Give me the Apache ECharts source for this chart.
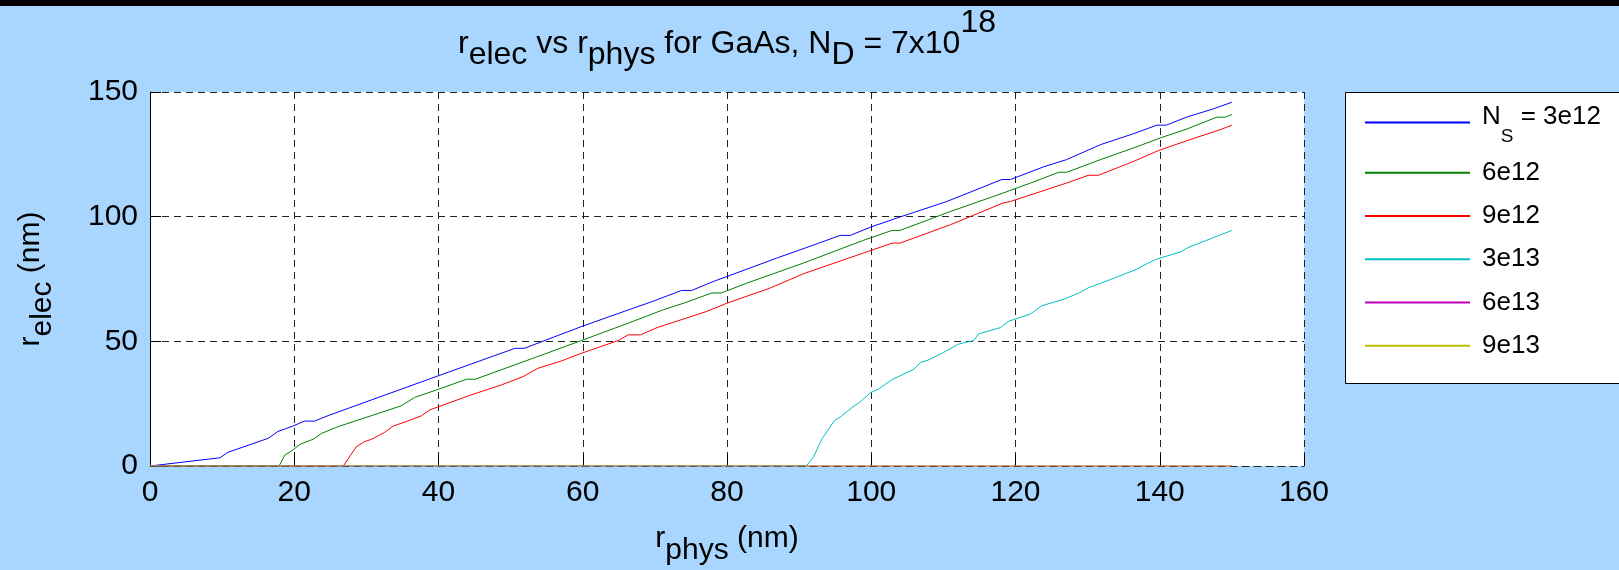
<!DOCTYPE html>
<html>
<head>
<meta charset="utf-8">
<script src="https://cdn.jsdelivr.net/npm/echarts@6/dist/echarts.min.js"></script>
<style>
    html, body {margin: 0; padding: 0; background: #a8d6fe;}
    #main {width: 1619px; height: 570px;}
</style>
</head>
<body>
<div id="main"></div>
<script>
// N_S values, one line per sheet density
var seriesNames = ['3e12', '6e12', '9e12', '3e13', '6e13', '9e13'];
var seriesColors = ['#0000ff', '#008000', '#ff0000', '#00bfbf', '#bf00bf', '#bfbf00'];

// r_phys (nm) / r_elec (nm)
var xs3e12 = [0, 9.7, 10.8, 16.4, 17.7, 19.8, 21.4, 22.8, 24.7, 30.7, 39.9, 50.6, 51.9, 59.8, 66.6, 69.3, 73.7, 75.1, 78.1, 80.0, 86.9, 91.5, 95.7, 97.1, 100, 103.6, 105.9, 110.5, 113.7, 118.1, 119.3, 123.9, 127.1, 131.8, 136.4, 139.6, 140.9, 143.8, 147.5, 150];
var ys3e12 = [0, 3.3, 5.5, 11.1, 13.8, 16.0, 18.0, 18.0, 20.2, 26.5, 36.1, 47.2, 47.2, 55.9, 62.9, 65.6, 70.4, 70.4, 74.0, 76.0, 83.4, 88.1, 92.5, 92.5, 95.9, 99.5, 101.7, 106.1, 109.8, 114.9, 114.9, 120.0, 122.9, 128.9, 133.3, 136.7, 136.7, 140.0, 143.3, 145.9];

var xs6e12 = [0, 17.9, 18.7, 19.8, 20.8, 22.6, 23.8, 26.1, 34.8, 36.7, 39.9, 43.9, 45.1, 52.9, 59.8, 66.6, 71.2, 74.0, 77.9, 79.2, 82.8, 90.6, 98.9, 102.9, 104.0, 111.0, 118.3, 122.1, 126.0, 127.1, 131.8, 136.4, 140.1, 143.8, 147.9, 149.1, 150];
var ys6e12 = [0, 0, 4.4, 6.4, 8.7, 10.7, 13.1, 15.8, 24.1, 27.5, 30.7, 34.8, 34.8, 43.0, 50.3, 57.6, 62.7, 65.3, 69.4, 69.4, 73.4, 81.4, 90.5, 94.5, 94.5, 102.1, 109.5, 113.5, 117.8, 117.8, 122.9, 127.6, 131.6, 135.2, 139.9, 139.9, 141.0];

var xs9e12 = [0, 26.8, 28.6, 29.7, 30.7, 32.5, 33.7, 35.5, 37.6, 38.8, 44.5, 48.7, 51.7, 53.8, 57.0, 59.8, 64.9, 66.3, 68.0, 70.3, 77.2, 80.0, 86.0, 90.6, 98.9, 102.9, 104.0, 111.0, 114.7, 118.3, 119.3, 127.1, 130.1, 131.5, 136.4, 139.8, 144.2, 148.4, 150];
var ys9e12 = [0, 0, 7.7, 9.7, 10.7, 13.4, 16.0, 17.8, 20.1, 22.5, 28.5, 32.5, 35.8, 39.2, 42.1, 45.2, 50.3, 52.6, 52.6, 55.5, 62.0, 65.3, 71.4, 77.1, 85.4, 89.4, 89.4, 96.8, 101.2, 105.5, 106.1, 113.5, 116.6, 116.6, 122.2, 126.5, 130.9, 134.9, 136.7];

var xs3e13 = [0, 91.0, 92.0, 93.2, 94.9, 95.9, 97.3, 98.5, 99.9, 101.0, 102.9, 103.8, 105.9, 106.8, 108.0, 110.0, 112.1, 114.2, 114.9, 117.9, 119.0, 122.1, 123.6, 126.8, 128.9, 130.1, 133.1, 136.8, 138.2, 139.5, 143.0, 143.9, 147.9, 150];
var ys3e13 = [0, 0, 3.7, 11.1, 18.2, 20.1, 23.4, 25.8, 29.4, 30.8, 34.7, 35.9, 38.8, 41.5, 42.6, 45.5, 48.9, 50.3, 53.0, 55.5, 58.0, 61.0, 64.2, 67.0, 69.5, 71.5, 74.7, 78.9, 81.1, 82.9, 86.0, 87.6, 92.1, 94.5];

var xs6e13 = [0, 150];
var ys6e13 = [0, 0];
var xs9e13 = [0, 150];
var ys9e13 = [0, 0];

var xTicks = [0, 20, 40, 60, 80, 100, 120, 140, 160];
var yTicks = [0, 50, 100, 150];

var FONT = 'Liberation Sans';

function pairs(xs, ys) {
    return xs.map(function (x, i) { return [x, ys[i]]; });
}

// one rich-text token whose box fills the whole line, so the glyph
// sits padTop px below the line top whatever the alignment rule is
function tok(size, lineH, padTop, solid) {
    var t = {
        fontFamily: FONT, fontWeight: 'normal', fontSize: size, color: '#000',
        height: size, lineHeight: lineH, verticalAlign: 'top',
        padding: [padTop, 0, lineH - size - padTop, 0]
    };
    if (solid) {
        t.backgroundColor = 'transparent';
    }
    return t;
}

// shared look of the two legend blocks (first row has the subscript)
function legendBlock(names, top, gap) {
    return {
        orient: 'vertical',
        left: 1345,
        top: top,
        padding: [0, 10, 0, 20],
        itemGap: gap,
        itemWidth: 105,
        itemHeight: 2,
        icon: 'rect',
        data: names,
        formatter: function (name) {
            if (name === seriesNames[0]) {
                return '{n|N}{s|S}{n| = ' + name + '}';
            }
            return '{t|' + name + '}';
        },
        textStyle: {
            fontFamily: FONT, fontSize: 26, color: '#000',
            padding: [0, 0, 0, 7],
            rich: {
                n: tok(26, 47, 5, true),
                s: tok(19, 47, 28, true),
                t: tok(26, 40, 7, true)
            }
        }
    };
}

var allX = [xs3e12, xs6e12, xs9e12, xs3e13, xs6e13, xs9e13];
var allY = [ys3e12, ys6e12, ys9e12, ys3e13, ys6e13, ys9e13];

var chart = echarts.init(document.getElementById('main'), null, {renderer: 'canvas'});

var option = {
    animation: false,
    backgroundColor: '#a8d6fe',
    graphic: [
        {
            type: 'rect', left: 0, top: 0, z: 100,
            shape: {width: 1619, height: 6},
            style: {fill: '#000'}
        },
        {
            // legend box, open on the right where it runs off the figure
            type: 'rect', z: 1,
            shape: {x: 1345, y: 92, width: 274, height: 292},
            style: {fill: '#fff'}
        },
        {
            type: 'polyline', z: 2,
            shape: {points: [[1619, 92.5], [1345.5, 92.5], [1345.5, 383.5], [1619, 383.5]]},
            style: {stroke: '#000', lineWidth: 1, fill: null}
        }
    ],
    title: {
        text: '{m|r}{s|elec}{m| vs r}{s|phys}{m| for GaAs, N}{s|D}{m| = 7x10}{p|18}',
        left: 727,
        top: 7,
        textAlign: 'center',
        padding: 0,
        textStyle: {
            fontFamily: FONT, fontWeight: 'normal', fontSize: 32, color: '#000',
            rich: {m: tok(32, 64, 21), s: tok(32, 64, 32), p: tok(32, 64, 0)}
        }
    },
    legend: [
        legendBlock(seriesNames.slice(0, 1), 99, 3),
        legendBlock(seriesNames.slice(1), 152.7, 3.25)
    ],
    grid: {
        left: 150,
        right: 315,
        top: 92,
        bottom: 104,
        show: true,
        backgroundColor: '#fff',
        borderWidth: 0,
        containLabel: false,
        outerBoundsMode: 'none'
    },
    xAxis: {
        type: 'value',
        min: xTicks[0],
        max: xTicks[xTicks.length - 1],
        interval: xTicks[1] - xTicks[0],
        name: '{m|r}{s|phys}{m| (nm)}',
        nameLocation: 'middle',
        nameGap: 58,
        nameMoveOverlap: false,
        nameTextStyle: {
            fontFamily: FONT, fontSize: 30, color: '#000',
            rich: {m: tok(30, 42, 0), s: tok(30, 42, 12)}
        },
        axisLine: {show: true, lineStyle: {color: '#222', width: 1, type: [7, 5]}},
        axisTick: {show: true, inside: true, length: 12, lineStyle: {color: '#000'}},
        axisLabel: {fontFamily: FONT, fontSize: 30, color: '#000', margin: 12},
        splitLine: {show: true, lineStyle: {color: '#222', width: 1, type: [7, 5]}}
    },
    yAxis: {
        type: 'value',
        min: yTicks[0],
        max: yTicks[yTicks.length - 1],
        interval: yTicks[1] - yTicks[0],
        name: '{m|r}{s|elec}{m| (nm)}',
        nameLocation: 'middle',
        nameRotate: 90,
        nameGap: 92,
        nameMoveOverlap: false,
        nameTextStyle: {
            fontFamily: FONT, fontSize: 30, color: '#000',
            rich: {m: tok(30, 42, 0), s: tok(30, 42, 12)}
        },
        axisLine: {show: true, lineStyle: {color: '#000', width: 1}},
        axisTick: {show: true, inside: true, length: 11, lineStyle: {color: '#000'}},
        axisLabel: {fontFamily: FONT, fontSize: 30, color: '#000', margin: 12},
        splitLine: {show: true, lineStyle: {color: '#222', width: 1, type: [7, 5]}}
    },
    series: seriesNames.map(function (name, i) {
        return {
            name: name,
            type: 'line',
            data: pairs(allX[i], allY[i]),
            showSymbol: false,
            symbol: 'none',
            color: seriesColors[i],
            lineStyle: {color: seriesColors[i], width: 1},
            z: 3 + i
        };
    })
};

chart.setOption(option);
</script>
</body>
</html>
